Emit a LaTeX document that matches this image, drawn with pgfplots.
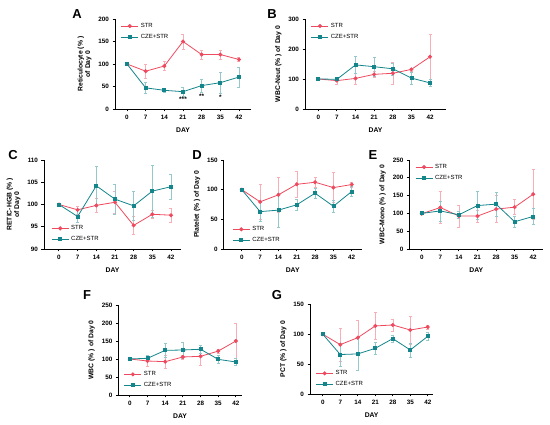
\documentclass[border=0pt]{standalone}
\usepackage{pgfplots}
\pgfplotsset{compat=1.18}
\usepackage{fontspec}
\setmainfont{Liberation Sans}
\definecolor{strred}{RGB}{238,74,95}
\definecolor{czeteal}{RGB}{20,133,138}
\pgfplotsset{
  gp/.style={
    scale only axis,
    axis lines=left,
    axis line style={-, line width=0.9pt, black},
    tick style={black, line width=0.9pt},
    tick align=outside,
    major tick length=2.5pt,
    xtick={0,7,14,21,28,35,42},
    xlabel={DAY},
    /pgf/number format/assume math mode=true,
    ticklabel style={font=\fontsize{6.3}{7}\selectfont\bfseries},
    label style={font=\fontsize{6.8}{7.6}\selectfont\bfseries},
    ylabel style={align=center},
    xlabel style={yshift=-1pt},
    legend style={draw=none, fill=none, font=\fontsize{6}{6.5}\selectfont, row sep=1.2pt, cells={anchor=west}},
    legend cell align=left,
    clip=false,
  },
  strline/.style={color=strred, line width=0.8pt, mark=*, mark size=1.6pt,
    error bars/.cd, y dir=both, y explicit,
    error bar style={strred!45, line width=0.5pt},
    error mark options={rotate=90, strred!45, mark size=1.5pt, line width=0.5pt}},
  czeline/.style={color=czeteal, line width=0.8pt, mark=square*, mark size=1.5pt,
    error bars/.cd, y dir=both, y explicit,
    error bar style={czeteal!45, line width=0.5pt},
    error mark options={rotate=90, czeteal!45, mark size=1.5pt, line width=0.5pt}},
}
\begin{document}
\begin{tikzpicture}[x=1pt,y=1pt]
\path[use as bounding box] (0,0) rectangle (550,425);
% panel letters
\begin{scope}[every node/.style={font=\fontsize{13}{14}\selectfont\bfseries}]
\node at (77,411) {A};
\node at (272,411) {B};
\node at (13,270) {C};
\node at (197,270) {D};
\node at (373,270) {E};
\node at (87,130) {F};
\node at (277,130) {G};
\end{scope}

% ---------- A ----------
\begin{axis}[gp, at={(115pt,316pt)}, anchor=south west, width=136pt, height=90pt,
  xmin=-4.5, xmax=46.5, ymin=0, ymax=200, ytick={0,50,100,150,200},
  ylabel={Reticulocyte (\% )\\of Day 0},
  legend style={at={(0.02,1.0)}, anchor=north west}]
\addplot[strline] table[x=d,y=v,y error=e]{
d v e
0 100 0
7 84 15
14 95.5 10
21 150 17
28 121 10
35 121 10
42 110 4
};
\addlegendentry{STR}
\addplot[czeline] table[x=d,y=v,y error=e]{
d v e
0 100 0
7 47 12
14 41.5 4
21 38.5 10
28 52 14
35 58.5 24
42 71 22
};
\addlegendentry{CZE+STR}
\node[font=\fontsize{6.5}{6.5}\selectfont\bfseries] at (axis cs:21,22) {***};
\node[font=\fontsize{6.5}{6.5}\selectfont\bfseries] at (axis cs:28,28) {**};
\node[font=\fontsize{6.5}{6.5}\selectfont\bfseries] at (axis cs:35,25) {*};
\end{axis}

% ---------- B ----------
\begin{axis}[gp, at={(305pt,316pt)}, anchor=south west, width=141pt, height=90pt,
  xmin=-5, xmax=48, ymin=0, ymax=300, ytick={0,100,200,300},
  ylabel={WBC-Neut (\% ) of Day 0},
  legend style={at={(0.02,1.0)}, anchor=north west}]
\addplot[strline] table[x=d,y=v,y error=e]{
d v e
0 100 0
7 94.5 12
14 102 18
21 115.5 10
28 119 37
35 132 5
42 174 74
};
\addlegendentry{STR}
\addplot[czeline] table[x=d,y=v,y error=e]{
d v e
0 100 0
7 99 8
14 147 29
21 141 31
28 134 20
35 103 20
42 87 12
};
\addlegendentry{CZE+STR}
\end{axis}

% ---------- C ----------
\begin{axis}[gp, at={(44pt,176pt)}, anchor=south west, width=137pt, height=89pt,
  xmin=-5.6, xmax=45.75, ymin=90, ymax=110, ytick={90,95,100,105,110},
  ylabel={RETIC-HGB (\% )\\of Day 0},
  legend style={at={(0.03,0.03)}, anchor=south west}]
\addplot[strline] table[x=d,y=v,y error=e]{
d v e
0 100 0
7 98.8 0.9
14 99.8 1.5
21 100.5 2.5
28 95.3 2
35 97.8 0.8
42 97.6 1.5
};
\addlegendentry{STR}
\addplot[czeline] table[x=d,y=v,y error=e]{
d v e
0 100 0
7 97.3 1.3
14 104.2 4.5
21 101.2 3.3
28 99.7 3.3
35 103.0 5.8
42 104.0 2.8
};
\addlegendentry{CZE+STR}
\end{axis}

% ---------- D ----------
\begin{axis}[gp, at={(223.7pt,176pt)}, anchor=south west, width=138pt, height=89pt,
  xmin=-6.9, xmax=45.8, ymin=0, ymax=150, ytick={0,50,100,150},
  ylabel={Platelet (\% ) of Day 0},
  legend style={at={(0.04,0.02)}, anchor=south west}]
\addplot[strline] table[x=d,y=v,y error=e]{
d v e
0 100 0
7 79.5 30
14 91.3 30
21 109 22
28 112.5 8
35 103.5 25
42 108.6 4
};
\addlegendentry{STR}
\addplot[czeline] table[x=d,y=v,y error=e]{
d v e
0 100 0
7 63 16
14 65.5 29
21 74.5 10
28 94 8
35 72 10
42 97 8
};
\addlegendentry{CZE+STR}
\end{axis}

% ---------- E ----------
\begin{axis}[gp, at={(409.3pt,176pt)}, anchor=south west, width=134pt, height=89pt,
  xmin=-4.7, xmax=45.8, ymin=0, ymax=250, ytick={0,50,100,150,200,250},
  ylabel={WBC-Mono (\% ) of Day 0},
  legend style={at={(0.02,1.0)}, anchor=north west}]
\addplot[strline] table[x=d,y=v,y error=e]{
d v e
0 99 0
7 116.6 45
14 92.4 31
21 92.4 17
28 112 38
35 117.5 21
42 154 70
};
\addlegendentry{STR}
\addplot[czeline] table[x=d,y=v,y error=e]{
d v e
0 100 0
7 107 28
14 96 10
21 122 39
28 126 34
35 76.5 16
42 91.5 22
};
\addlegendentry{CZE+STR}
\end{axis}

% ---------- F ----------
\begin{axis}[gp, at={(118.3pt,30pt)}, anchor=south west, width=123.4pt, height=90pt,
  xmin=-4.6, xmax=44.3, ymin=0, ymax=250, ytick={0,50,100,150,200,250},
  ylabel={WBC (\% ) of Day 0},
  legend style={at={(0.02,0.03)}, anchor=south west}]
\addplot[strline] table[x=d,y=v,y error=e]{
d v e
0 100 0
7 94.4 15
14 92.6 17
21 105.6 5
28 107.4 25
35 122 5
42 150 49
};
\addlegendentry{STR}
\addplot[czeline] table[x=d,y=v,y error=e]{
d v e
0 100 0
7 102 8
14 124 20
21 125 22
28 127 10
35 99 12
42 91.7 10
};
\addlegendentry{CZE+STR}
\end{axis}

% ---------- G ----------
\begin{axis}[gp, at={(310pt,31pt)}, anchor=south west, width=123.3pt, height=89.7pt,
  xmin=-5.1, xmax=44.2, ymin=0, ymax=150, ytick={0,50,100,150},
  ylabel={PCT (\% ) of Day 0},
  legend style={at={(0.02,0.03)}, anchor=south west}]
\addplot[strline] table[x=d,y=v,y error=e]{
d v e
0 100 0
7 82.5 28
14 94.2 29
21 113.8 23
28 115.4 10
35 107 23
42 112 3
};
\addlegendentry{STR}
\addplot[czeline] table[x=d,y=v,y error=e]{
d v e
0 100 0
7 66 19
14 67 27
21 76.4 10
28 92.6 6
35 73.6 12
42 96.5 7
};
\addlegendentry{CZE+STR}
\end{axis}
\end{tikzpicture}
\end{document}
